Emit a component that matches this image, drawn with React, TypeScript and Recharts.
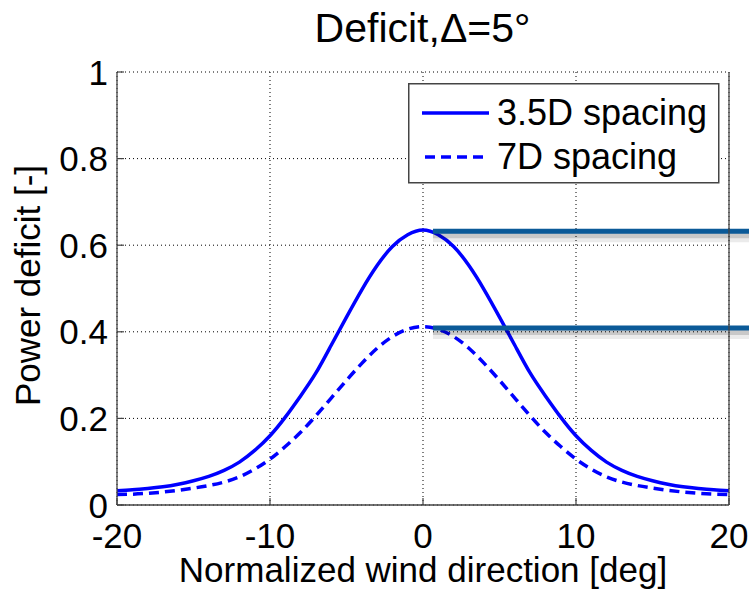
import React from 'react';
import { LineChart, Line, XAxis, YAxis, CartesianGrid, Legend, ReferenceLine } from 'recharts';

// wind direction offsets [deg]
const angles = [
  -20, -19, -18, -17, -16, -15, -14, -13, -12, -11, -10, -9, -8, -7, -6, -5, -4, -3, -2, -1, 0,
  1, 2, 3, 4, 5, 6, 7, 8, 9, 10, 11, 12, 13, 14, 15, 16, 17, 18, 19, 20,
];

// power deficit, 3.5D spacing
const deficit35D = [
  0.033, 0.035, 0.038, 0.042, 0.048, 0.056, 0.066, 0.08, 0.099, 0.126, 0.16, 0.203, 0.252, 0.305, 0.369, 0.434, 0.497, 0.553, 0.597, 0.624, 0.635,
  0.624, 0.597, 0.553, 0.497, 0.434, 0.369, 0.305, 0.252, 0.203, 0.16, 0.126, 0.099, 0.08, 0.066, 0.056, 0.048, 0.042, 0.038, 0.035, 0.033,
];

// power deficit, 7D spacing
const deficit7D = [
  0.024, 0.025, 0.027, 0.03, 0.034, 0.039, 0.045, 0.053, 0.065, 0.083, 0.106, 0.135, 0.168, 0.206, 0.247, 0.288, 0.327, 0.362, 0.389, 0.406, 0.412,
  0.406, 0.389, 0.362, 0.327, 0.288, 0.247, 0.206, 0.168, 0.135, 0.106, 0.083, 0.065, 0.053, 0.045, 0.039, 0.034, 0.03, 0.027, 0.025, 0.024,
];

const xTicks = [-20, -10, 0, 10, 20];
const yTicks = [0, 0.2, 0.4, 0.6, 0.8, 1];

const seriesNames = ['3.5D spacing', '7D spacing'];
const title = 'Deficit,Δ=5°';

const data = angles.map((a, i) => ({ angle: a, s35: deficit35D[i], s7: deficit7D[i] }));

const FONT = '"Liberation Sans", Arial, Helvetica, sans-serif';
const AXIS = '#444';
const BLUE = '#0000ff';

const LeftTick = ({ x, y, payload }: any) => (
  <g>
    <line x1={x} x2={x + 7} y1={y} y2={y} stroke={AXIS} strokeWidth={1.2} />
    <text x={x - 9} y={y} dy="0.36em" textAnchor="end" fontSize={35} fontFamily={FONT} fill="#000">
      {String(payload.value)}
    </text>
  </g>
);

const RightTick = ({ x, y }: any) => (
  <line x1={x - 7} x2={x} y1={y} y2={y} stroke={AXIS} strokeWidth={1.2} />
);

const BottomTick = ({ x, y, payload }: any) => (
  <g>
    <line x1={x} x2={x} y1={y} y2={y - 7} stroke={AXIS} strokeWidth={1.2} />
    <text x={x} y={y + 43} textAnchor="middle" fontSize={35} fontFamily={FONT} fill="#000">
      {String(payload.value)}
    </text>
  </g>
);

const TopTick = ({ x, y }: any) => (
  <line x1={x} x2={x} y1={y} y2={y + 7} stroke={AXIS} strokeWidth={1.2} />
);

const LegendBox = () => (
  <svg width={312} height={101} style={{ display: 'block' }}>
    <rect x={0.75} y={0.75} width={310} height={99} fill="#fff" stroke={AXIS} strokeWidth={1.5} />
    <line x1={14} x2={81} y1={30} y2={30} stroke={BLUE} strokeWidth={3.5} />
    <text x={89} y={42} fontSize={36} fontFamily={FONT} fill="#000">{seriesNames[0]}</text>
    <line x1={17} x2={81} y1={74} y2={74} stroke={BLUE} strokeWidth={3.5} strokeDasharray="10 6" />
    <text x={89} y={86} fontSize={36} fontFamily={FONT} fill="#000">{seriesNames[1]}</text>
  </svg>
);

// annotation bars at the two peaks
const peaks = [Math.max(...deficit35D), Math.max(...deficit7D)];

const ShadowBar = (props: any) => (
  <g>
    <line x1={props.x1} y1={props.y1 + 6} x2={props.x2} y2={props.y2 + 6} stroke="#000" strokeOpacity={0.08} strokeWidth={10} />
    <line x1={props.x1} y1={props.y1 + 4} x2={props.x2} y2={props.y2 + 4} stroke="#000" strokeOpacity={0.15} strokeWidth={6} />
    <line x1={props.x1} y1={props.y1} x2={props.x2} y2={props.y2} stroke="#0b5a98" strokeWidth={5} />
  </g>
);

export default function App() {
  return (
    <div style={{ position: 'absolute', left: 0, top: 0, width: 749, height: 599, background: '#fff', fontFamily: FONT }}>
      <div
        style={{
          position: 'absolute',
          left: 0,
          top: 0,
          width: 845,
          textAlign: 'center',
          fontSize: 41,
          lineHeight: '48px',
          paddingTop: 4,
          color: '#000',
          zIndex: 2,
        }}
      >
        {title}
      </div>
      <LineChart width={749} height={599} data={data} margin={{ top: 72, right: 0, bottom: 0, left: 0 }}>
        <CartesianGrid stroke="#000" strokeDasharray="1 3" strokeWidth={1} />
        <XAxis
          dataKey="angle"
          type="number"
          domain={[-20, 20]}
          ticks={xTicks}
          interval={0}
          height={94}
          tickSize={0}
          tickMargin={0}
          axisLine={{ stroke: AXIS, strokeWidth: 1.3 }}
          tickLine={false}
          tick={<BottomTick />}
          label={{
            content: ({ viewBox }: any) => (
              <text x={viewBox.x + viewBox.width / 2} y={viewBox.y + 77} textAnchor="middle" fontSize={35} fontFamily={FONT} fill="#000">
                Normalized wind direction [deg]
              </text>
            ),
          }}
        />
        <XAxis
          xAxisId="top"
          orientation="top"
          dataKey="angle"
          type="number"
          domain={[-20, 20]}
          ticks={xTicks}
          interval={0}
          height={0}
          tickSize={0}
          tickMargin={0}
          axisLine={{ stroke: AXIS, strokeWidth: 1.3 }}
          tickLine={false}
          tick={<TopTick />}
        />
        <YAxis
          type="number"
          domain={[0, 1]}
          ticks={yTicks}
          interval={0}
          width={117}
          tickSize={0}
          tickMargin={0}
          axisLine={{ stroke: AXIS, strokeWidth: 1.3 }}
          tickLine={false}
          tick={<LeftTick />}
          label={{
            content: ({ viewBox }: any) => {
              const cy = viewBox.y + viewBox.height / 2 - 3;
              return (
                <text x={40} y={cy} transform={`rotate(-90, 40, ${cy})`} textAnchor="middle" fontSize={35} fontFamily={FONT} fill="#000">
                  Power deficit [-]
                </text>
              );
            },
          }}
        />
        <YAxis
          yAxisId="right"
          orientation="right"
          type="number"
          domain={[0, 1]}
          ticks={yTicks}
          interval={0}
          width={20}
          tickSize={0}
          tickMargin={0}
          axisLine={{ stroke: AXIS, strokeWidth: 1.3 }}
          tickLine={false}
          tick={<RightTick />}
        />
        <Line
          type="natural"
          dataKey="s35"
          name={seriesNames[0]}
          stroke={BLUE}
          strokeWidth={3.5}
          dot={false}
          isAnimationActive={false}
        />
        <Line
          type="natural"
          dataKey="s7"
          name={seriesNames[1]}
          stroke={BLUE}
          strokeWidth={3.5}
          strokeDasharray="10 6"
          dot={false}
          isAnimationActive={false}
        />
        {peaks.map((p) => (
          <ReferenceLine
            key={p}
            segment={[{ x: 0.65, y: p - 0.003 }, { x: 21.5, y: p - 0.003 }]}
            ifOverflow="visible"
            shape={<ShadowBar />}
          />
        ))}
        <Legend
          layout="vertical"
          align="center"
          verticalAlign="middle"
          wrapperStyle={{ left: 408, top: 83, width: 312 }}
          content={() => <LegendBox />}
        />
      </LineChart>
    </div>
  );
}
